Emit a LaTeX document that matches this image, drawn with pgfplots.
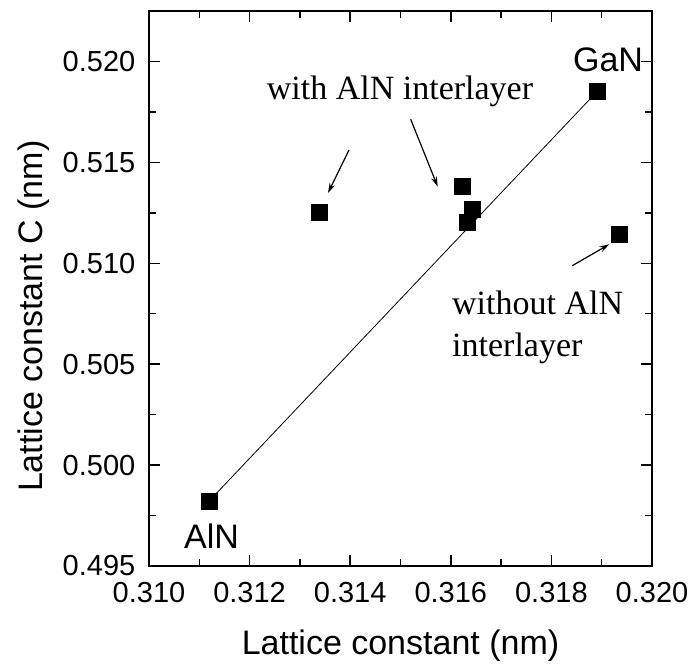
\documentclass[border=0pt]{standalone}
\usepackage{fontspec}
\setmainfont{Liberation Sans}
\newfontfamily\timesfont{Liberation Serif}
\usepackage{pgfplots}
\pgfplotsset{compat=1.18}
\usetikzlibrary{arrows.meta}
\begin{document}
\begin{tikzpicture}
\path[use as bounding box] (-149pt,-103pt) rectangle (545pt,566pt);
\begin{axis}[
  at={(0pt,0pt)}, anchor=south west,
  scale only axis, width=503pt, height=555pt,
  xmin=0.310, xmax=0.320, ymin=0.495, ymax=0.5225,
  xtick={0.310,0.312,0.314,0.316,0.318,0.320},
  ytick={0.495,0.500,0.505,0.510,0.515,0.520},
  minor x tick num=1, minor y tick num=1,
  scaled ticks=false,
  tick align=inside,
  major tick length=10.7pt, minor tick length=6.7pt,
  tick style={black, line width=1.5pt},
  axis line style={line width=2pt},
  /pgf/number format/fixed,
  /pgf/number format/fixed zerofill,
  /pgf/number format/precision=3,
  /pgf/number format/assume math mode=true,
  ticklabel style={font=\fontsize{29}{29}\selectfont},
  xticklabel style={anchor=base, inner sep=0pt, yshift=-37pt},
  yticklabel style={anchor=east, inner sep=0pt, xshift=-13.5pt},
  label style={font=\fontsize{34}{34}\selectfont},
  xlabel={Lattice constant (nm)},
  ylabel={Lattice constant C (nm)},
  xlabel style={at={(axis description cs:0.5,-0.160)}, anchor=base},
  ylabel style={at={(axis description cs:-0.2123,0.45)}, anchor=base},
]
\addplot[black, line width=0.8pt, no marks] coordinates {(0.31120,0.49823) (0.31892,0.51854)};
\addplot[only marks, mark=square*, mark size=8pt, black] coordinates {
  (0.31120,0.49823)
  (0.31339,0.51252)
  (0.31892,0.51854)
  (0.31622,0.51381)
  (0.31642,0.51266)
  (0.31632,0.51203)
  (0.31935,0.51146)
};
\end{axis}
\node[font=\timesfont\fontsize{34}{34}\selectfont, anchor=base] at (251pt,466pt) {with AlN interlayer};
\draw[-{Stealth[length=10pt,width=6pt]}, line width=1.2pt] (200pt,416pt) -- (179pt,373pt);
\draw[-{Stealth[length=10pt,width=6pt]}, line width=1.2pt] (261.7pt,446.7pt) -- (288.7pt,379.3pt);
\node[font=\fontsize{34}{34}\selectfont, anchor=base] at (459pt,494.3pt) {GaN};
\node[font=\fontsize{34}{34}\selectfont, anchor=base] at (62.5pt,17pt) {AlN};
\node[font=\timesfont\fontsize{34}{34}\selectfont, anchor=base west, inner sep=0pt] at (303pt,251pt) {without AlN};
\node[font=\timesfont\fontsize{34}{34}\selectfont, anchor=base west, inner sep=0pt] at (303pt,209.3pt) {interlayer};
\draw[-{Stealth[length=10pt,width=6pt]}, line width=1.2pt] (423.3pt,300.3pt) -- (460.3pt,321.7pt);
\end{tikzpicture}
\end{document}
